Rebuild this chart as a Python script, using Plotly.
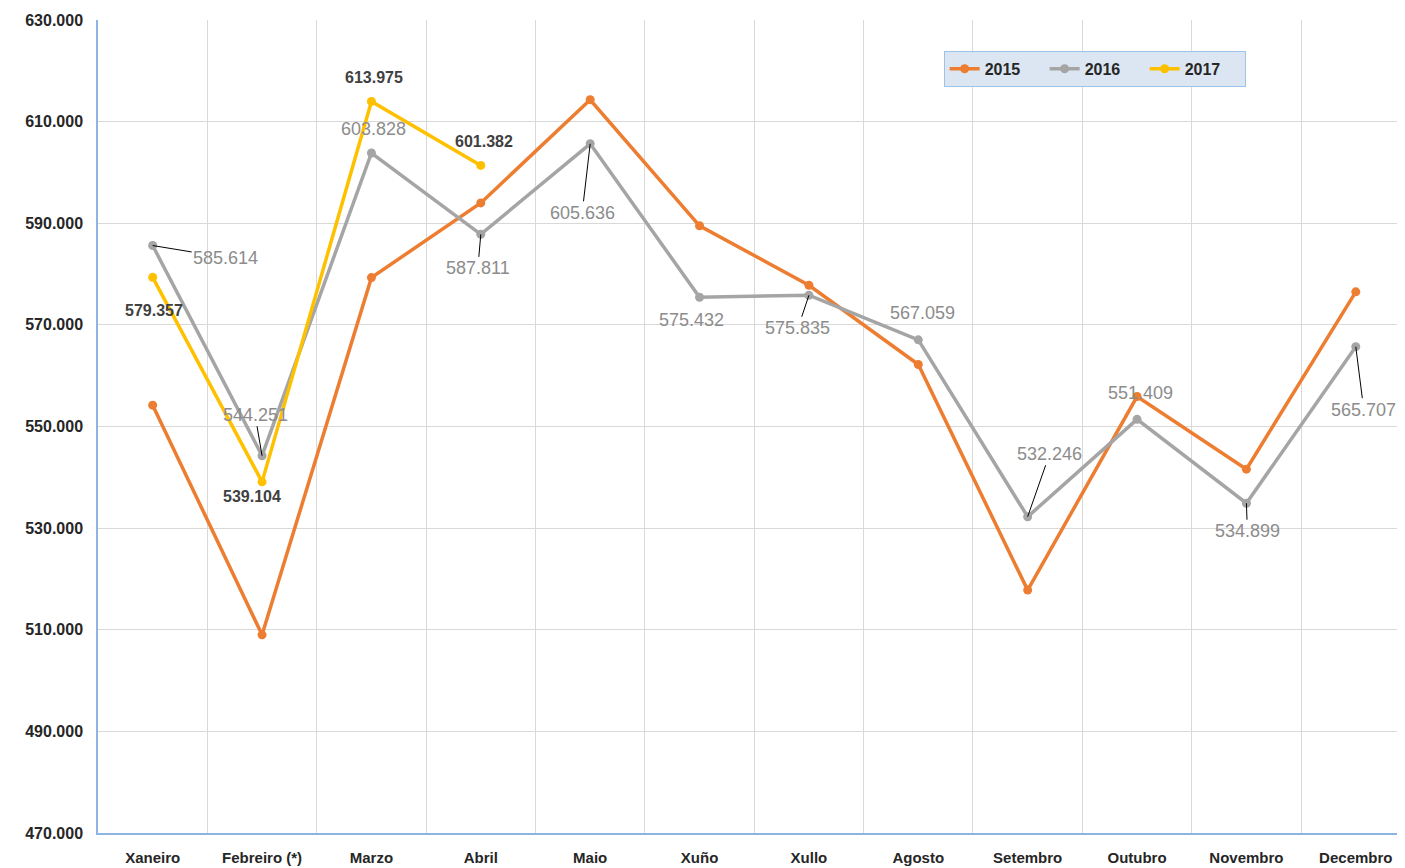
import plotly.graph_objects as go

months = ['Xaneiro', 'Febreiro (*)', 'Marzo', 'Abril', 'Maio', 'Xuño', 'Xullo',
          'Agosto', 'Setembro', 'Outubro', 'Novembro', 'Decembro']
v2015 = [554200, 509000, 579300, 594000, 614300, 589500, 577800,
         562200, 517800, 555900, 541600, 576500]
v2016 = [585614, 544251, 603828, 587811, 605636, 575432, 575835,
         567059, 532246, 551409, 534899, 565707]
v2017 = [579357, 539104, 613975, 601382]

FONT = 'Liberation Sans'


def fmt(v):
    return f"{v:,}".replace(",", ".")


fig = go.Figure()
fig.add_trace(go.Scatter(x=months, y=v2015, name='2015', mode='lines+markers',
                         line=dict(color='#ED7D31', width=3.5),
                         marker=dict(size=9, color='#ED7D31')))
fig.add_trace(go.Scatter(x=months, y=v2016, name='2016', mode='lines+markers',
                         line=dict(color='#A5A5A5', width=3.5),
                         marker=dict(size=9, color='#A5A5A5')))
fig.add_trace(go.Scatter(x=months[:4], y=v2017, name='2017', mode='lines+markers',
                         line=dict(color='#FFC000', width=3.5),
                         marker=dict(size=9, color='#FFC000')))

# 2016 labels: (dx, dy, leader line) in px, dy positive = down
lab16 = [(73, 12, True), (-7, -41, True), (2, -24, False), (-3, 34, True),
         (-8, 69, True), (-8, 23, False), (-11, 33, True), (4, -27, False),
         (22, -63, True), (3, -26, False), (1, 28, True), (8, 63, True)]
for m, v, (dx, dy, line) in zip(months, v2016, lab16):
    if line:
        fig.add_annotation(x=m, y=v, text=fmt(v), showarrow=True, arrowhead=0,
                           arrowwidth=1, arrowcolor='black', ax=dx, ay=dy,
                           font=dict(family=FONT, size=18, color='#8c8c8c'))
    else:
        fig.add_annotation(x=m, y=v, text=fmt(v), showarrow=False,
                           xshift=dx, yshift=-dy,
                           font=dict(family=FONT, size=18, color='#8c8c8c'))

lab17 = [(1, 33), (-10, 15), (3, -24), (3, -24)]
for m, v, (dx, dy) in zip(months, v2017, lab17):
    fig.add_annotation(x=m, y=v, text='<b>' + fmt(v) + '</b>', showarrow=False,
                       xshift=dx, yshift=-dy,
                       font=dict(family=FONT, size=16, color='#404040'))

# page body has an 8px margin, so the figure is a bit smaller than the window
fig.update_layout(
    width=1397, height=860,
    margin=dict(l=90, r=0, t=12, b=35),
    paper_bgcolor='white', plot_bgcolor='white',
    separators=',.',
    font=dict(family=FONT, color='#262626'),
    legend=dict(orientation='h', x=0.647, y=0.962, xanchor='left', yanchor='top',
                bgcolor='#dce6f2', bordercolor='#9dc3e6', borderwidth=1,
                font=dict(family=FONT, size=16, color='#262626', weight='bold'),
                entrywidth=55),
    showlegend=True,
)
fig.update_xaxes(type='category', range=[-0.5, 11.45], tickson='boundaries',
                 showgrid=True, gridcolor='#d9d9d9', gridwidth=1,
                 showline=True, linecolor='#8EB4E3', linewidth=1.5,
                 ticks='', ticklabelstandoff=10, automargin=False,
                 tickfont=dict(family=FONT, size=15, color='#262626', weight='bold'))
fig.update_yaxes(range=[470000, 630000], tick0=470000, dtick=20000, tickformat=',d',
                 showgrid=True, gridcolor='#d9d9d9', gridwidth=1,
                 showline=True, linecolor='#8EB4E3', linewidth=1.5,
                 ticks='', ticklabelstandoff=10, zeroline=False, automargin=False,
                 tickfont=dict(family=FONT, size=16, color='#262626', weight='bold'))

fig.write_html("out.html")
